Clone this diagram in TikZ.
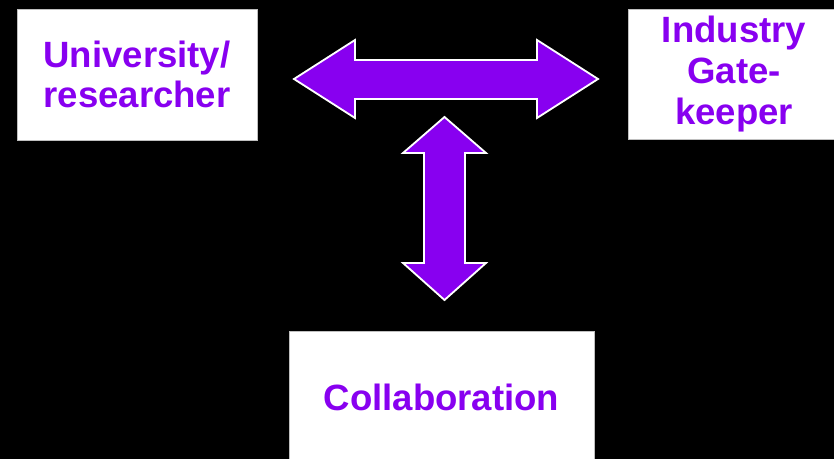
\documentclass[tikz,border=0pt]{standalone}
\usepackage{fontspec}
\setmainfont{Liberation Sans}
\usetikzlibrary{positioning, calc}
\definecolor{purp}{RGB}{136,0,240}

\tikzset{
    box/.style={fill=white, draw=gray!50, line width=0.6pt, align=center,
        text=purp, font=\bfseries\fontsize{26}{29}\selectfont, inner sep=0pt},
    bigarrow/.style={fill=purp, draw=white, line width=1.3pt, line join=miter}
}

\begin{document}
\begin{tikzpicture}[x=0.025cm, y=-0.025cm]

        \fill[black] (0,0) rectangle (834,459);
        \useasboundingbox (0,0) rectangle (834,459);

        \node[box, minimum width=6cm, minimum height=3.275cm] (uni) at (137,74.5) {University/\\researcher};
        \node[box, minimum width=5.3cm, minimum height=3.25cm] (ind) at (734,74) {Industry\\Gate-\\keeper};
        \node[box, minimum width=7.625cm, minimum height=3.3cm] (collab) at (441.5,397) {Collaboration};

        % double arrows
        \draw[bigarrow] (294,79) -- (355,40) -- (355,60) -- (537,60) -- (537,40) -- (598,79)
            -- (537,118) -- (537,99) -- (355,99) -- (355,118) -- cycle;
        \draw[bigarrow] (444.5,117) -- (486,153) -- (465,153) -- (465,263) -- (486,263) -- (444.5,300)
            -- (403,263) -- (424,263) -- (424,153) -- (403,153) -- cycle;

\end{tikzpicture}
\end{document}
